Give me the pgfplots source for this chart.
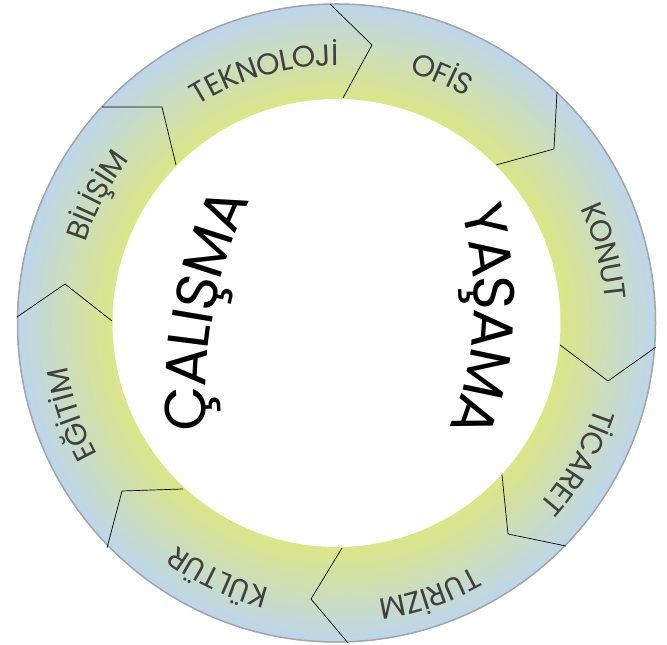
\documentclass[border=0pt]{standalone}
\usepackage{fontspec}
\setmainfont{Poppins}
\usepackage{pgfplots}
\pgfplotsset{compat=1.18}
\usetikzlibrary{decorations.text}
\definecolor{ringin}{RGB}{220,229,135}
\definecolor{ringout}{RGB}{189,214,236}
\definecolor{lblc}{RGB}{64,64,64}
\definecolor{rimc}{RGB}{165,165,165}
\pgfdeclareradialshading{ringshade}{\pgfpoint{0bp}{0bp}}{color(0bp)=(ringin); color(17.6bp)=(ringin); color(25bp)=(ringout); color(50bp)=(ringout)}
\newcommand\lbl{\fontsize{30}{32}\selectfont}
\newcommand\cfont{\fontsize{58}{60}\selectfont}
\begin{document}
\begin{tikzpicture}
\begin{axis}[x=1pt,y=1pt,xmin=-336.5,xmax=330.5,ymin=-322,ymax=323,hide axis,clip=false]
% ring
\shade[shading=ringshade] (axis cs:0,0) circle[radius=319.5pt];
\fill[white] (axis cs:0,0) circle[radius=224pt];
\draw[rimc, line width=1.5pt] (axis cs:0,0) circle[radius=319pt];
% chevron boundaries (outer, tip, inner)
\addplot[black, line width=0.7pt] coordinates {(-6.5,319) (35.5,278) (6.5,225)};
\addplot[black, line width=0.7pt] coordinates {(220.5,231) (217.5,174) (159.5,158)};
\addplot[black, line width=0.7pt] coordinates {(319.5,-24) (271.5,-58) (223.5,-22)};
\addplot[black, line width=0.7pt] coordinates {(229.5,-223) (171.5,-211) (165.5,-152)};
\addplot[black, line width=0.7pt] coordinates {(11.5,-320) (-25.5,-276) (5.5,-225)};
\addplot[black, line width=0.7pt] coordinates {(-229.5,-225) (-214.5,-168) (-153.5,-166)};
\addplot[black, line width=0.7pt] coordinates {(-319.5,6) (-271.5,39) (-224.5,2)};
\addplot[black, line width=0.7pt] coordinates {(-234.5,216) (-174.5,216) (-160.5,158)};
% ring labels
\path[shift={(axis cs:0,0)}, decorate, decoration={text along path, text align=center, text color=lblc, raise=-10.5pt, text={|\lbl|TEKNOLOJİ}}] (141:268pt) arc[start angle=141, end angle=71, radius=268pt];
\path[shift={(axis cs:0,0)}, decorate, decoration={text along path, text align=center, text color=lblc, raise=-10.5pt, text={|\lbl|OFİS}}] (102:271pt) arc[start angle=102, end angle=32, radius=271pt];
\path[shift={(axis cs:0,0)}, decorate, decoration={text along path, text align=center, text color=lblc, raise=-10.5pt, text={|\lbl|KONUT}}] (50:280pt) arc[start angle=50, end angle=-20, radius=280pt];
\path[shift={(axis cs:0,0)}, decorate, decoration={text along path, text align=center, text color=lblc, raise=-10.5pt, text={|\lbl|TİCARET}}] (5:283pt) arc[start angle=5, end angle=-65, radius=283pt];
\path[shift={(axis cs:0,0)}, decorate, decoration={text along path, text align=center, text color=lblc, raise=-10.5pt, text={|\lbl|TURİZM}}] (-36:290pt) arc[start angle=-36, end angle=-106, radius=290pt];
\path[shift={(axis cs:0,0)}, decorate, decoration={text along path, text align=center, text color=lblc, raise=-10.5pt, text={|\lbl|KÜLTÜR}}] (-80:284pt) arc[start angle=-80, end angle=-150, radius=284pt];
\path[shift={(axis cs:0,0)}, decorate, decoration={text along path, text align=center, text color=lblc, raise=-10.5pt, text={|\lbl|EĞİTİM}}] (-126:283pt) arc[start angle=-126, end angle=-196, radius=283pt];
\path[shift={(axis cs:0,0)}, decorate, decoration={text along path, text align=center, text color=lblc, raise=-10.5pt, text={|\lbl|BİLİŞİM}}] (187:274pt) arc[start angle=187, end angle=117, radius=274pt];
% centre words
\path[shift={(axis cs:316.5,-71)}, decorate, decoration={text along path, text align=center, text color=black, raise=-20pt, text={|\cfont|ÇALIŞMA}}] (195:467pt) arc[start angle=195, end angle=144, radius=467pt];
\path[shift={(axis cs:-189.8,20.4)}, decorate, decoration={text along path, text align=center, text color=black, raise=-20pt, text={|\cfont|YAŞAMA}}] (24:347.5pt) arc[start angle=24, end angle=-30, radius=347.5pt];
\end{axis}
\pgfresetboundingbox
\path (current axis.south west) rectangle (current axis.north east);
\end{tikzpicture}
\end{document}
